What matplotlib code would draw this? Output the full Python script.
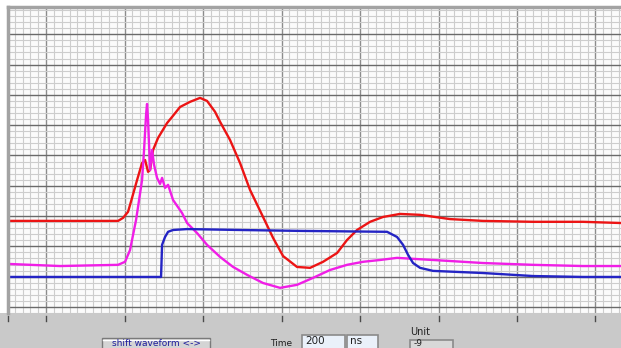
import matplotlib
matplotlib.use("Agg")
import matplotlib.pyplot as plt
from matplotlib.patches import Rectangle
from matplotlib.transforms import blended_transform_factory
import numpy as np

# time in ns (20 ns per major division), amplitude in divisions
red_t = [-9.7, 18.35, 19.62, 20.89, 21.91, 23.19, 24.46, 25.23, 25.99, 26.50, 27.26, 28.54,
         30.83, 32.10, 34.14, 36.69, 39.24, 41.02, 43.06, 44.34, 46.88, 49.43, 51.98, 55.29,
         57.84, 60.39, 63.95, 67.27, 70.58, 74.15, 76.69, 79.24, 82.56, 85.87, 90.20, 95.30,
         102.9, 111.3, 124.1, 136.8, 146.5]
red_v = [2.84, 2.84, 2.94, 3.14, 3.60, 4.19, 4.75, 4.85, 4.46, 4.52, 5.18, 5.58,
         6.07, 6.27, 6.60, 6.77, 6.90, 6.80, 6.44, 6.11, 5.51, 4.75, 3.86, 2.97,
         2.28, 1.68, 1.32, 1.29, 1.49, 1.78, 2.21, 2.54, 2.81, 2.97, 3.07, 3.04,
         2.90, 2.84, 2.81, 2.81, 2.77]

pink_t = [-9.7, 3.57, 18.35, 20.13, 21.40, 22.17, 22.93, 23.70, 24.46, 24.97, 25.48, 25.73,
          25.99, 26.24, 26.50, 27.01, 27.52, 28.28, 29.05, 29.56, 30.32, 31.09, 32.36, 34.65,
          35.93, 38.47, 41.02, 44.34, 47.65, 51.21, 55.29, 59.62, 63.95, 68.03, 72.36, 76.69,
          80.77, 85.10, 89.43, 94.53, 98.61, 111.3, 124.1, 136.8, 146.5]
pink_v = [1.42, 1.35, 1.39, 1.49, 1.88, 2.38, 2.87, 3.53, 4.19, 5.18, 6.34, 6.70,
          6.17, 5.35, 4.52, 5.18, 4.69, 4.26, 4.06, 4.26, 3.93, 4.03, 3.53, 3.10,
          2.77, 2.44, 2.05, 1.65, 1.32, 1.06, 0.79, 0.63, 0.73, 0.96, 1.22, 1.39,
          1.49, 1.55, 1.62, 1.58, 1.55, 1.45, 1.39, 1.35, 1.35]

blue_t = [-9.7, 13.76, 29.30, 29.56, 30.32, 31.09, 32.36, 35.93, 49.43, 64.72, 86.89, 89.43,
          90.96, 92.24, 93.51, 95.30, 98.61, 111.3, 124.1, 136.8, 146.5]
blue_v = [0.99, 0.99, 0.99, 2.05, 2.31, 2.48, 2.54, 2.57, 2.54, 2.51, 2.48, 2.31,
          2.05, 1.72, 1.45, 1.29, 1.19, 1.12, 1.02, 0.99, 0.99]

time_value = "200"
time_unit = "ns"
unit_value = "-9"

W, H = 621, 348


def px(x, y):
    # screen pixel -> figure fraction
    return x / W, 1 - y / H


fig = plt.figure(figsize=(W / 100, H / 100), dpi=100)
fig.patch.set_facecolor("white")

# grey front panel under the graph
fig.add_artist(Rectangle((0, 0), 1, 35 / H, transform=fig.transFigure,
                         facecolor="#c9c9c9", edgecolor="none", zorder=0))

ax = fig.add_axes([8 / W, 35 / H, 613 / W, 306 / H])
ax.set_facecolor("#fbfbfb")
ax.set_xlim(-9.7, 146.5)
ax.set_ylim(-0.2, 9.9)

xmajor = np.arange(0, 141, 20)
ax.set_xticks(xmajor)
ax.set_xticks(np.arange(-8, 147, 2), minor=True)
ax.set_yticks(np.arange(0, 10, 1))
ax.set_yticks(np.arange(-0.2, 9.9, 0.2), minor=True)
ax.grid(which="minor", color="#cdcdcd", lw=0.8)
ax.xaxis.grid(which="major", color="#8c8c8c", lw=1.0)
ax.yaxis.grid(which="major", color="#6a6a6a", lw=1.0)
ax.set_axisbelow(True)
ax.tick_params(which="both", length=0, labelbottom=False, labelleft=False)

for side in ["bottom", "right"]:
    ax.spines[side].set_visible(False)
for side in ["left", "top"]:
    ax.spines[side].set_color("#a3a3a3")
    ax.spines[side].set_linewidth(2.5)

ax.plot(red_t, red_v, color="#ec1414", lw=1.7)
ax.plot(pink_t, pink_v, color="#f01ee6", lw=1.7)
ax.plot(blue_t, blue_v, color="#2424c4", lw=1.7)

# scale marks on the panel below the graph
trans = blended_transform_factory(ax.transData, ax.transAxes)
for t in [ax.get_xlim()[0]] + list(xmajor):
    ax.plot([t, t], [-0.010, -0.027], transform=trans, color="#4a4a4a",
            lw=1, clip_on=False)

# controls
x0, y0 = px(102, 349)
x1, y1 = px(210, 338)
fig.add_artist(Rectangle((x0, y0), x1 - x0, y1 - y0, transform=fig.transFigure,
                         facecolor="#d4d4d4", edgecolor="#7a7a7a", lw=1))
fig.add_artist(plt.Line2D([px(103, 0)[0], px(209, 0)[0]], [px(0, 339.5)[1]] * 2,
                          transform=fig.transFigure, color="white", lw=1))
fig.text(*px(156, 339.5), "shift waveform <->", color="#1c1c9c", fontsize=6.5,
         ha="center", va="top")

fig.text(*px(270, 338.5), "Time", color="#202020", fontsize=6.5, ha="left", va="top")


def field(xa, xb, ytop, label):
    a, b = px(xa, 350)
    c, d = px(xb, ytop)
    fig.add_artist(Rectangle((a, b), c - a, d - b, transform=fig.transFigure,
                             facecolor="#eaf1fa", edgecolor="#8a8a8a", lw=1.2))
    fig.text(*px(xa + 3, ytop + 1), label, color="#202020", fontsize=7.5,
             ha="left", va="top")


field(302, 345, 335, time_value)
field(347, 378, 335, time_unit)
fig.text(*px(410, 327), "Unit", color="#202020", fontsize=7, ha="left", va="top")
a, b = px(410, 350)
c, d = px(453, 340)
fig.add_artist(Rectangle((a, b), c - a, d - b, transform=fig.transFigure,
                         facecolor="#d8d8d8", edgecolor="#8a8a8a", lw=1.2))
fig.text(*px(414, 339.5), unit_value, color="#202020", fontsize=6.5,
         ha="left", va="top")

fig.savefig("out.png", dpi=100)
